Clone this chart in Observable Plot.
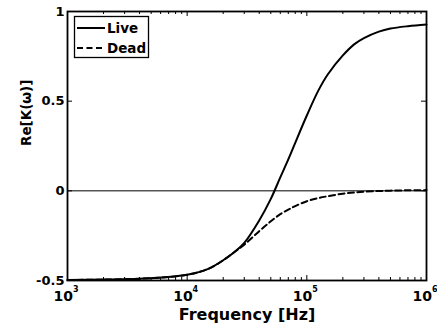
<!DOCTYPE html>
<html><head><meta charset="utf-8">
<script src="https://cdn.jsdelivr.net/npm/d3@7"></script>
<script src="https://cdn.jsdelivr.net/npm/@observablehq/plot@0.6"></script>
<style>
body{margin:0;background:#fff;font-family:"DejaVu Sans",sans-serif}
#wrap{position:relative;width:437px;height:331px}
#legend{position:absolute;left:0;top:0;pointer-events:none}
</style></head><body><div id="wrap"></div>
<script>
// Data
const freq = [1e3, 2e3, 5e3, 1e4, 1.5e4, 2e4, 2.5e4, 3e4, 4e4, 5e4, 6e4, 7e4, 8e4, 1e5, 1.25e5, 1.5e5, 2e5, 2.5e5, 3e5, 4e5, 5e5, 7e5, 1e6];
const live = [-0.497, -0.495, -0.487, -0.468, -0.435, -0.387, -0.34, -0.29, -0.165, -0.045, 0.075, 0.175, 0.268, 0.42, 0.56, 0.65, 0.755, 0.818, 0.852, 0.888, 0.905, 0.918, 0.927];
const dead = [-0.497, -0.495, -0.487, -0.468, -0.435, -0.387, -0.34, -0.30, -0.225, -0.17, -0.13, -0.105, -0.085, -0.058, -0.04, -0.03, -0.016, -0.009, -0.005, -0.001, 0.001, 0.003, 0.004];
const seriesNames = ["Live", "Dead"];
const xMajor = [1e3, 1e4, 1e5, 1e6];
const xMinor = [2e3,3e3,4e3,5e3,6e3,7e3,8e3,9e3,2e4,3e4,4e4,5e4,6e4,7e4,8e4,9e4,2e5,3e5,4e5,5e5,6e5,7e5,8e5,9e5];
const yTicks = [-0.5, 0, 0.5, 1];
const yTickLabels = ["-0.5", "0", "0.5", "1"];
const xLabel = "Frequency [Hz]";
const yLabel = "Re[K(ω)]";

const liveData = freq.map((f, i) => ({f, v: live[i]}));
const deadData = freq.map((f, i) => ({f, v: dead[i]}));

const W = 437, H = 331, mL = 67, mR = 11, mT = 11, mB = 51;
const fh = H - mT - mB, fw = W - mL - mR;
const font = "DejaVu Sans";

const chart = Plot.plot({
  width: W, height: H,
  marginLeft: mL, marginRight: mR, marginTop: mT, marginBottom: mB,
  style: {fontFamily: font, fontWeight: "bold", background: "#fff", color: "#000", overflow: "visible"},
  x: {type: "log", domain: [1e3, 1e6]},
  y: {domain: [-0.5, 1]},
  marks: [
    Plot.ruleY([0], {stroke: "#000", strokeWidth: 1}),
    Plot.line(deadData, {x: "f", y: "v", stroke: "#000", strokeWidth: 2, strokeDasharray: "6,3.5", curve: "catmull-rom"}),
    Plot.line(liveData, {x: "f", y: "v", stroke: "#000", strokeWidth: 2, curve: "catmull-rom"}),
    // inward ticks
    Plot.tickX(xMajor, {x: d => d, insetTop: fh - 5, stroke: "#000", strokeWidth: 1}),
    Plot.tickX(xMajor, {x: d => d, insetBottom: fh - 5, stroke: "#000", strokeWidth: 1}),
    Plot.tickX(xMinor, {x: d => d, insetTop: fh - 3, stroke: "#000", strokeWidth: 1}),
    Plot.tickX(xMinor, {x: d => d, insetBottom: fh - 3, stroke: "#000", strokeWidth: 1}),
    Plot.tickY(yTicks, {y: d => d, insetRight: fw - 5, stroke: "#000", strokeWidth: 1}),
    Plot.tickY(yTicks, {y: d => d, insetLeft: fw - 5, stroke: "#000", strokeWidth: 1}),
    Plot.axisX(xMajor, {anchor: "bottom", tickSize: 0, tickPadding: 11, fontSize: 14, fontWeight: "bold", tickFormat: d => "10^" + Math.round(Math.log10(d)), label: null}),
    Plot.axisY(yTicks, {anchor: "left", tickSize: 0, tickPadding: 3, fontSize: 13, fontWeight: "bold", tickFormat: (d, i) => yTickLabels[yTicks.indexOf(d)], label: null}),
    Plot.text([xLabel], {frameAnchor: "bottom", dy: 39, fontSize: 16, fontWeight: "bold", fill: "#000"}),
    Plot.text([yLabel], {frameAnchor: "left", dx: -41, rotate: -90, fontSize: 13.5, fontWeight: "bold", fill: "#000"}),
    Plot.frame({stroke: "#000", strokeWidth: 1.8})
  ]
});

// superscript exponents on x tick labels
chart.querySelectorAll("text").forEach(t => {
  const s = t.textContent;
  const m = /^10\^(\d+)$/.exec(s);
  if (m) {
    t.textContent = "";
    const a = document.createElementNS("http://www.w3.org/2000/svg", "tspan");
    a.textContent = "10";
    a.setAttribute("dx", "-1.5");
    const b = document.createElementNS("http://www.w3.org/2000/svg", "tspan");
    b.textContent = m[1];
    b.setAttribute("dy", "-9");
    b.setAttribute("font-size", "8");
    t.appendChild(a); t.appendChild(b);
  }
});

const wrap = document.getElementById("wrap");
wrap.appendChild(chart);

// legend overlay
const ns = "http://www.w3.org/2000/svg";
const lg = document.createElementNS(ns, "svg");
lg.setAttribute("id", "legend");
lg.setAttribute("width", W); lg.setAttribute("height", H);
const box = document.createElementNS(ns, "rect");
Object.entries({x: 74.5, y: 16.5, width: 74, height: 41, fill: "#fff", stroke: "#000", "stroke-width": 1.3}).forEach(([k, v]) => box.setAttribute(k, v));
lg.appendChild(box);
seriesNames.forEach((name, i) => {
  const cy = 28 + i * 20;
  const ln = document.createElementNS(ns, "line");
  Object.entries({x1: 77, x2: 105, y1: cy, y2: cy, stroke: "#000", "stroke-width": 2}).forEach(([k, v]) => ln.setAttribute(k, v));
  if (i === 1) ln.setAttribute("stroke-dasharray", "6,3.5");
  lg.appendChild(ln);
  const tx = document.createElementNS(ns, "text");
  Object.entries({x: 107, y: cy, "dominant-baseline": "central", "font-family": font, "font-weight": "bold", "font-size": 13.5, fill: "#000"}).forEach(([k, v]) => tx.setAttribute(k, v));
  tx.textContent = name;
  lg.appendChild(tx);
});
wrap.appendChild(lg);
</script>
</body></html>
